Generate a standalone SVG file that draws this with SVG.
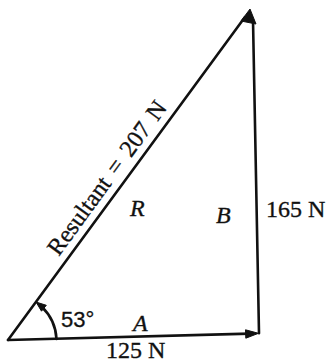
<svg xmlns="http://www.w3.org/2000/svg" width="327" height="363" viewBox="0 0 327 363">
  <style>
    .vec { stroke: #111; stroke-width: 2.6; fill: none; stroke-linecap: round; }
    .head { fill: #111; stroke: #111; stroke-width: 1; stroke-linejoin: round; }
    .lbl { font-family: "Liberation Serif", "Times New Roman", serif; font-size: 24px; fill: #111; stroke: #111; stroke-width: 0.35; }
    .it { font-style: italic; }
    .ang { font-family: "Liberation Sans", Arial, sans-serif; font-size: 22px; fill: #111; stroke: #111; stroke-width: 0.3; }
  </style>
  <rect width="327" height="363" fill="#ffffff"/>
  <g id="connectors">
    <!-- A: horizontal vector -->
    <line class="vec" x1="8" y1="340" x2="250" y2="333.6"/>
    <polygon class="head" points="258.5,333.3 245.5,329.8 245.8,338.2"/>
    <!-- B: vertical vector -->
    <line class="vec" x1="259" y1="333.3" x2="253" y2="20" stroke-width="2.2"/>
    <!-- R: resultant -->
    <line class="vec" x1="8" y1="340" x2="245" y2="17"/>
    <polygon class="head" points="250,9 241,21 256,24"/>
    <!-- angle arc -->
    <path class="vec" d="M 56.5 339 A 48 48 0 0 0 42 307" stroke-width="2.2"/>
    <polygon class="head" points="36,302 46.3,305.3 41.5,311.2"/>
  </g>
  <g id="label-resultant">
    <text class="lbl" transform="translate(8,340) rotate(-53.83)" x="97" y="-8" word-spacing="3">Resultant = 207 N</text>
  </g>
  <g id="label-R">
    <text class="lbl it" x="130" y="216">R</text>
  </g>
  <g id="label-B">
    <text class="lbl it" x="216" y="223">B</text>
  </g>
  <g id="label-165">
    <text class="lbl" x="266" y="217">165 N</text>
  </g>
  <g id="label-A">
    <text class="lbl it" x="133" y="331">A</text>
  </g>
  <g id="label-125">
    <text class="lbl" x="106" y="358">125 N</text>
  </g>
  <g id="label-angle">
    <text class="ang" x="61" y="327">53°</text>
  </g>
</svg>
